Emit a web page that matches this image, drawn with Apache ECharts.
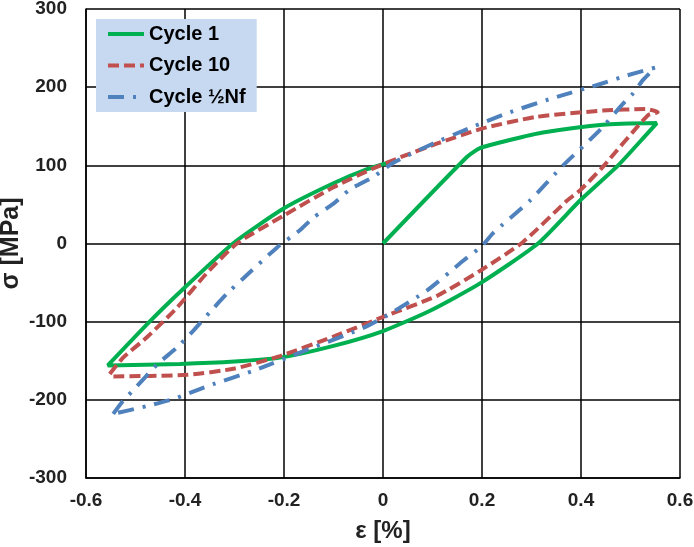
<!DOCTYPE html>
<html>
<head>
<meta charset="utf-8">
<script src="https://cdn.jsdelivr.net/npm/echarts@6/dist/echarts.min.js"></script>
<style>
  html, body { margin: 0; padding: 0; background: #fff; }
  #chart { width: 694px; height: 547px; }
</style>
</head>
<body>
<div id="chart"></div>
<script>
// strain [%], stress [MPa]
const cycle1 = [
    [0, 0], [0.17, 111], [0.196, 122], [0.26, 133], [0.323, 142], [0.444, 152], [0.553, 154],
    [0.533, 140], [0.475, 100], [0.398, 55], [0.313, 0], [0.196, -51], [0.095, -86],
    [0, -112], [-0.1, -131], [-0.208, -146], [-0.3, -151], [-0.41, -154], [-0.556, -156],
    [-0.47, -99], [-0.4, -56], [-0.303, 0], [-0.2, 45], [-0.1, 77], [-0.032, 95], [0.014, 104]
];
const cycle10 = [
    [-0.552, -167], [-0.525, -146], [-0.477, -120], [-0.416, -82], [-0.356, -38], [-0.295, 0],
    [-0.2, 36], [-0.1, 72], [-0.02, 96], [0.034, 110], [0.11, 128], [0.2, 147], [0.31, 162],
    [0.444, 170], [0.53, 172], [0.555, 168], [0.535, 164], [0.444, 98], [0.398, 68],
    [0.372, 55], [0.283, 2], [0.196, -35], [0.109, -67], [0.008, -92], [-0.1, -119],
    [-0.208, -144], [-0.3, -160], [-0.396, -168], [-0.545, -170], [-0.552, -167]
];
const cycleHalf = [
    [-0.545, -218], [-0.525, -201], [-0.505, -188], [-0.455, -154], [-0.416, -133],
    [-0.384, -112], [-0.35, -88], [-0.315, -64], [-0.283, -45], [-0.214, -5], [-0.168, 17],
    [-0.141, 33], [-0.1, 51], [-0.067, 69], [-0.02, 85], [0.02, 103], [0.095, 126],
    [0.176, 148], [0.257, 168], [0.343, 186], [0.444, 205], [0.493, 215], [0.55, 225],
    [0.525, 209], [0.505, 192], [0.485, 179], [0.438, 145], [0.364, 100], [0.297, 55],
    [0.222, 13], [0.2, -3], [0.162, -22], [0.089, -60], [0.008, -92], [-0.04, -108],
    [-0.141, -133], [-0.263, -163], [-0.343, -180], [-0.424, -199], [-0.477, -208], [-0.545, -218]
];
const seriesNames = ['Cycle 1', 'Cycle 10', 'Cycle ½Nf'];

const font = '"Liberation Sans", Arial, sans-serif';
const chart = echarts.init(document.getElementById('chart'));

const lineSeries = (name, data, color, type) => ({
    name: name,
    type: 'line',
    data: data,
    symbol: 'none',
    smooth: 0.2,
    smoothMonotone: 'none',
    lineStyle: { color: color, width: 4, type: type },
    itemStyle: { color: color },
    animation: false
});

chart.setOption({
    animation: false,
    grid: { left: 86, right: 14, top: 9, bottom: 69, outerBoundsMode: 'none' },
    legend: {
        orient: 'vertical',
        left: 96,
        top: 19,
        padding: [5, 11, 5, 10],
        itemGap: 11.5,
        itemWidth: 36,
        itemHeight: 18,
        backgroundColor: '#c6d9f1',
        itemStyle: { opacity: 0 },
        lineStyle: { width: 4 },
        textStyle: { fontFamily: font, fontWeight: 'bold', fontSize: 20, color: '#000' },
        data: seriesNames
    },
    xAxis: {
        type: 'value',
        min: -0.6, max: 0.6, interval: 0.2,
        name: 'ε [%]',
        nameLocation: 'middle',
        nameGap: 41,
        nameMoveOverlap: false,
        nameTextStyle: { fontFamily: font, fontWeight: 'bold', fontSize: 24, color: '#222' },
        axisLine: { onZero: false, lineStyle: { color: '#000', width: 1.5 } },
        axisTick: { show: false },
        axisLabel: { fontFamily: font, fontWeight: 'bold', fontSize: 19, color: '#222', margin: 13 },
        splitLine: { lineStyle: { color: '#000', width: 1.5 } }
    },
    yAxis: {
        type: 'value',
        min: -300, max: 300, interval: 100,
        name: 'σ [MPa]',
        nameLocation: 'middle',
        nameRotate: 90,
        nameGap: 62,
        nameMoveOverlap: false,
        nameTextStyle: { fontFamily: font, fontWeight: 'bold', fontSize: 25, color: '#222' },
        axisLine: { show: true, onZero: false, lineStyle: { color: '#000', width: 1.5 } },
        axisTick: { show: false },
        axisLabel: { fontFamily: font, fontWeight: 'bold', fontSize: 19, color: '#222', margin: 19 },
        splitLine: { lineStyle: { color: '#000', width: 1.5 } }
    },
    series: [
        lineSeries(seriesNames[0], cycle1, '#00b050', 'solid'),
        lineSeries(seriesNames[1], cycle10, '#c0504d', [11, 5]),
        lineSeries(seriesNames[2], cycleHalf, '#4f81bd', [16, 9, 3, 9])
    ]
});
</script>
</body>
</html>
